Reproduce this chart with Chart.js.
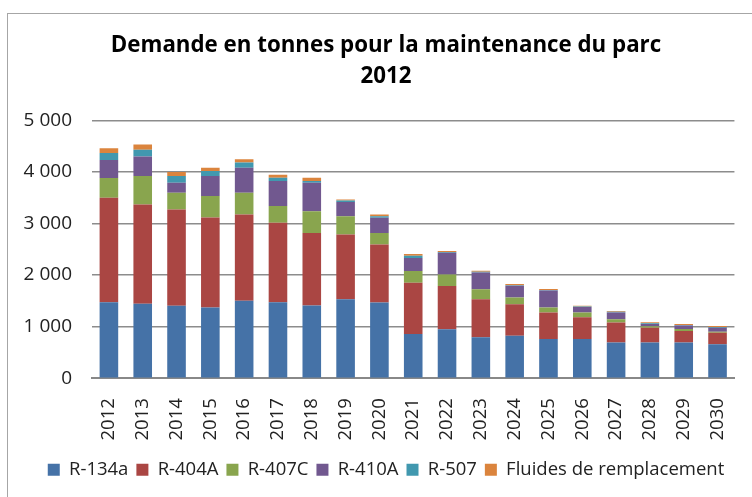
<!DOCTYPE html>
<html>
<head>
<meta charset="utf-8">
<script src="https://cdn.jsdelivr.net/npm/chart.js@4"></script>
<style>
  body { margin: 0; width: 752px; height: 497px; overflow: hidden; background: #fff; position: relative; }
  #frame { position: absolute; left: 7px; top: 13px; width: 800px; height: 600px; border: 1px solid #a6a6a6; }
  #wrap { position: absolute; left: 0; top: 0; width: 752px; height: 497px; }
</style>
</head>
<body>
<div id="frame"></div>
<div id="wrap"><canvas id="myChart"></canvas></div>
<script>
// années
const annees = ['2012','2013','2014','2015','2016','2017','2018','2019','2020','2021',
                '2022','2023','2024','2025','2026','2027','2028','2029','2030'];

// demande en tonnes par fluide
const r134a   = [1474,1442,1403,1370,1500,1474,1409,1532,1468, 857, 948, 792, 825, 758, 758, 693, 693, 693, 660];
const r404a   = [2026,1928,1870,1747,1675,1539,1409,1254,1123, 994, 838, 740, 610, 517, 425, 385, 287, 222, 222];
const r407c   = [ 383, 552, 324, 415, 422, 325, 422, 357, 227, 227, 227, 195, 130,  98,  92,  66,  27,  39,  20];
const r410a   = [ 351, 377, 195, 390, 487, 487, 552, 273, 292, 253, 422, 325, 227, 326, 104, 131,  45,  66,  78];
const r507    = [ 136, 130, 130,  97,  98,  65,  33,  32,  33,  46,  13,  13,  13,  13,  13,  13,  13,  13,  13];
const fluides = [  91, 103,  78,  65,  65,  58,  65,  20,  32,  32,  20,  19,  20,  20,  13,  13,  20,  19,  20];

const yTicks = [0, 1000, 2000, 3000, 4000, 5000];

const police = '"Open Sans", Lato, sans-serif';

function serie(label, data, couleur) {
    return { label: label, data: data, backgroundColor: couleur, borderWidth: 0 };
}

const ctx = document.getElementById('myChart').getContext('2d');

new Chart(ctx, {
    type: 'bar',
    data: {
        labels: annees,
        datasets: [
            serie('R-134a', r134a, '#4572A7'),
            serie('R-404A', r404a, '#AA4643'),
            serie('R-407C', r407c, '#89A54E'),
            serie('R-410A', r410a, '#71588F'),
            serie('R-507', r507, '#4198AF'),
            serie('Fluides de remplacement', fluides, '#DB843D')
        ]
    },
    options: {
        responsive: true,
        maintainAspectRatio: false,
        animation: false,
        layout: { padding: { left: 20, right: 0, top: 30, bottom: 8 } },
        datasets: { bar: { categoryPercentage: 0.55, barPercentage: 1 } },
        plugins: {
            title: {
                display: true,
                text: ['Demande en tonnes pour la maintenance du parc', '2012'],
                color: '#000',
                font: { family: police, size: 22.3, weight: 'bold', lineHeight: 1.4 },
                padding: { top: 0, bottom: 28 }
            },
            legend: {
                position: 'bottom',
                labels: {
                    color: '#222',
                    boxWidth: 12,
                    boxHeight: 12,
                    padding: 8,
                    font: { family: police, size: 18.5 }
                }
            },
            tooltip: { enabled: false }
        },
        scales: {
            x: {
                stacked: true,
                grid: { display: false },
                border: { color: '#888', width: 2 },
                ticks: {
                    color: '#222',
                    maxRotation: 90,
                    minRotation: 90,
                    padding: 12,
                    font: { family: police, size: 18.5 }
                }
            },
            y: {
                stacked: true,
                min: 0,
                max: 5000,
                afterBuildTicks: function (scale) {
                    scale.ticks = yTicks.map(function (v) { return { value: v }; });
                },
                afterFit: function (scale) { scale.width = 72; },
                grid: { color: '#8c8c8c', lineWidth: 1.5, drawTicks: false },
                border: { display: false },
                ticks: {
                    color: '#222',
                    padding: 20,
                    font: { family: police, size: 19 },
                    callback: function (v) {
                        return String(v).replace(/\B(?=(\d{3})+(?!\d))/g, ' ');
                    }
                }
            },
            // axe vide à droite, juste pour la marge
            y2: {
                position: 'right',
                min: 0,
                max: 5000,
                afterFit: function (scale) { scale.width = 10; },
                grid: { display: false },
                border: { display: false },
                ticks: { display: false }
            }
        }
    }
});
</script>
</body>
</html>
